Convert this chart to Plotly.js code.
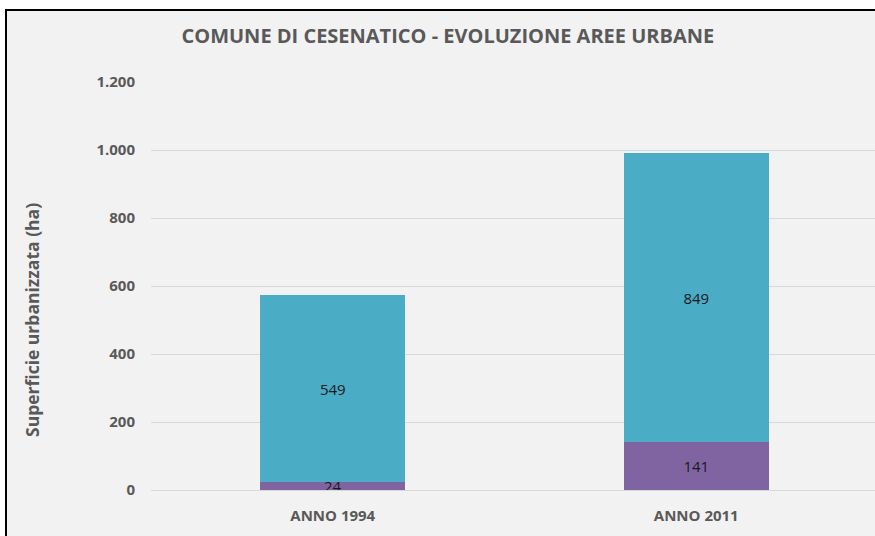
<!DOCTYPE html>
<html>
<head>
<meta charset="utf-8">
<script src="https://cdn.plot.ly/plotly-3.0.1.min.js"></script>
<style>
  html, body { margin: 0; padding: 0; background: #ffffff; overflow: hidden; width: 875px; height: 536px; }
  #frame { position: absolute; left: 5px; top: 9px; width: 880px; height: 540px;
           border-left: 2px solid #000; border-top: 2px solid #000; background: #f2f2f2; }
  #chart { position: absolute; left: 0; top: 0; }
</style>
</head>
<body>
<div id="frame"><div id="chart"></div></div>
<script>
const categories = ["ANNO 1994", "ANNO 2011"];
const seriesBottom = [24, 141];
const seriesTop = [549, 849];
const yTicks = [0, 200, 400, 600, 800, 1000, 1200];
const yTitle = "Superficie urbanizzata (ha)";

const fontFam = "'Open Sans', 'Noto Sans', sans-serif";
const gray = "#595959";

const traces = [
  {
    type: "bar", x: categories, y: seriesBottom, name: "bottom",
    marker: { color: "#8064a2" },
    text: seriesBottom.map(String), textposition: "inside", insidetextanchor: "middle",
    textangle: 0, constraintext: "none",
    textfont: { family: fontFam, size: 15, color: "#1a1a1a" },
    width: 0.4, hoverinfo: "skip"
  },
  {
    type: "bar", x: categories, y: seriesTop, name: "top",
    marker: { color: "#4bacc6" },
    text: seriesTop.map(String), textposition: "inside", insidetextanchor: "middle",
    textangle: 0, constraintext: "none",
    textfont: { family: fontFam, size: 15, color: "#1a1a1a" },
    width: 0.4, hoverinfo: "skip"
  }
];

const layout = {
  width: 880, height: 530,
  margin: { l: 144, r: 9, t: 71, b: 51 },
  paper_bgcolor: "rgba(0,0,0,0)",
  plot_bgcolor: "rgba(0,0,0,0)",
  barmode: "stack",
  showlegend: false,
  separators: ",.",
  title: {
    text: "<b>COMUNE DI CESENATICO - EVOLUZIONE AREE URBANE</b>",
    font: { family: fontFam, size: 20, color: gray },
    x: 0.501, xanchor: "center", xref: "container",
    y: 1, yref: "container", yanchor: "top", pad: { t: 18 }
  },
  xaxis: {
    type: "category",
    range: [-0.5, 1.5],
    showgrid: false, zeroline: false,
    showline: false,
    ticks: "outside", ticklen: 12, tickcolor: "rgba(0,0,0,0)",
    tickfont: { family: fontFam, size: 15, color: gray, weight: "bold" }
  },
  yaxis: {
    range: [0, 1200],
    tickvals: yTicks,
    tickformat: ",d",
    showgrid: true, gridcolor: "#d9d9d9", gridwidth: 1,
    zeroline: true, zerolinecolor: "#d9d9d9", zerolinewidth: 1,
    showline: false,
    ticks: "outside", ticklen: 12, tickcolor: "rgba(0,0,0,0)",
    tickfont: { family: fontFam, size: 15, color: gray, weight: "bold" }
  },
  annotations: [{
    text: "<b>" + yTitle + "</b>",
    xref: "paper", yref: "paper", x: -0.1637, y: 0.4167,
    xanchor: "center", yanchor: "middle", textangle: -90, showarrow: false,
    font: { family: fontFam, size: 17.5, color: gray }
  }]
};

Plotly.newPlot("chart", traces, layout, { displayModeBar: false, staticPlot: true });
</script>
</body>
</html>
